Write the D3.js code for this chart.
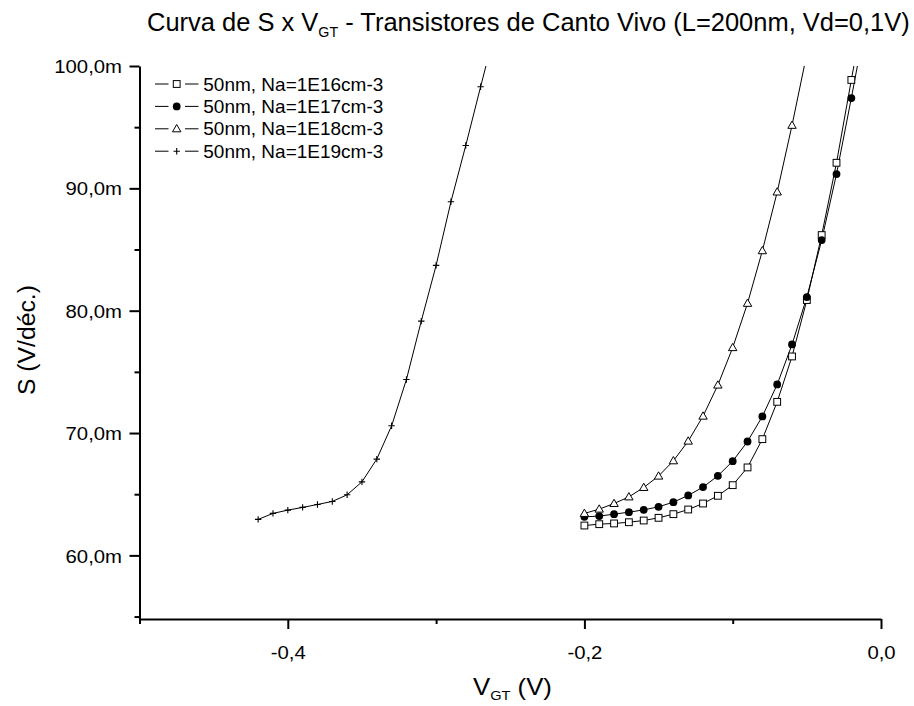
<!DOCTYPE html>
<html><head><meta charset="utf-8">
<script src="https://cdn.jsdelivr.net/npm/d3@7"></script>
<style>
body{margin:0;background:#fff}
svg text{font-family:"Liberation Sans",Arial,sans-serif;fill:#000}
</style>
</head><body>
<svg id="chart" width="914" height="706"></svg>
<script>
// ---------- data ----------
const vgtRight = [-0.20,-0.19,-0.18,-0.17,-0.16,-0.15,-0.14,-0.13,-0.12,-0.11,-0.10,-0.09,-0.08,-0.07,-0.06,-0.05,-0.04,-0.03,-0.02,-0.01];
const s1E16 = [62.44,62.55,62.61,62.71,62.85,63.07,63.37,63.75,64.24,64.87,65.74,67.19,69.50,72.55,76.26,80.87,86.18,92.09,98.86,105.5];
const s1E17 = [63.15,63.21,63.37,63.53,63.72,63.97,64.35,64.90,65.58,66.50,67.70,69.31,71.36,73.97,77.24,81.11,85.77,91.17,97.38,103.8];
const vgt1E18 = [-0.20,-0.19,-0.18,-0.17,-0.16,-0.15,-0.14,-0.13,-0.12,-0.11,-0.10,-0.09,-0.08,-0.07,-0.06,-0.05];
const s1E18 = [63.43,63.78,64.24,64.78,65.55,66.48,67.73,69.34,71.38,73.92,76.98,80.60,84.90,89.70,95.15,101.0];
const vgt1E19 = [-0.42,-0.41,-0.40,-0.39,-0.38,-0.37,-0.36,-0.35,-0.34,-0.33,-0.32,-0.31,-0.30,-0.29,-0.28,-0.27,-0.26];
const s1E19 = [62.94,63.43,63.70,63.92,64.16,64.41,64.95,66.01,67.87,70.59,74.38,79.15,83.7,88.9,93.5,98.3,103.0];

const seriesNames = ["50nm, Na=1E16cm-3","50nm, Na=1E17cm-3","50nm, Na=1E18cm-3","50nm, Na=1E19cm-3"];
const seriesMarkers = ["square","circle","triangle","plus"];

const xDomain = [-0.5, 0.0];
const yDomain = [54.8, 100];
const xMajorTicks = [-0.4,-0.2,0.0];
const xMinorTicks = [-0.5,-0.3,-0.1];
const yMajorTicks = [60,70,80,90,100];
const yMinorTicks = [55,65,75,85,95];

const titleMain = "Curva de S x V";
const titleSub = "GT";
const titleRest = " - Transistores de Canto Vivo (L=200nm, Vd=0,1V)";
const xLabelMain = "V", xLabelSub = "GT", xLabelRest = " (V)";
const yLabel = "S (V/déc.)";

// ---------- build ----------
const series = [
  {x: vgtRight, y: s1E16},
  {x: vgtRight, y: s1E17},
  {x: vgt1E18, y: s1E18},
  {x: vgt1E19, y: s1E19}
].map((d,i)=>({name: seriesNames[i], marker: seriesMarkers[i], pts: d.x.map((v,j)=>[v,d.y[j]])}));

const svg = d3.select("#chart");
const L = 139.5, R = 881, T = 66, B = 619;
const x = d3.scaleLinear().domain(xDomain).range([L, R]);
const y = d3.scaleLinear().domain(yDomain).range([B, T]);
const TS = 1.07;

svg.append("defs").append("clipPath").attr("id","plotclip")
  .append("rect").attr("x",L).attr("y",T).attr("width",R-L+2).attr("height",B-T);

function drawMarker(g, type, cx, cy){
  if(type==="square"){
    g.append("rect").attr("x",cx-3.4).attr("y",cy-3.4).attr("width",6.8).attr("height",6.8)
      .attr("fill","#fff").attr("stroke","#000").attr("stroke-width",1);
  } else if(type==="circle"){
    g.append("circle").attr("cx",cx).attr("cy",cy).attr("r",3.9).attr("fill","#000");
  } else if(type==="triangle"){
    g.append("path").attr("d",`M${cx},${cy-4.3}L${cx+4.2},${cy+3}L${cx-4.2},${cy+3}Z`)
      .attr("fill","#fff").attr("stroke","#000").attr("stroke-width",1);
  } else {
    g.append("path").attr("d",`M${cx-3.2},${cy}H${cx+3.2}M${cx},${cy-3.2}V${cy+3.2}`)
      .attr("stroke","#000").attr("stroke-width",1.1).attr("fill","none");
  }
}

const plot = svg.append("g").attr("clip-path","url(#plotclip)");
const line = d3.line().x(d=>x(d[0])).y(d=>y(d[1]));
series.forEach(s=>{
  plot.append("path").attr("d",line(s.pts)).attr("fill","none").attr("stroke","#000").attr("stroke-width",1);
});
series.forEach(s=>{
  const g = plot.append("g");
  s.pts.forEach(p=>drawMarker(g, s.marker, x(p[0]), y(p[1])));
});

const fmt = v => v.toFixed(1).replace(".",",");
const gx = svg.append("g").attr("transform",`translate(0,${B})`)
  .call(d3.axisBottom(x).tickValues(xMajorTicks).tickSize(10).tickSizeOuter(0).tickFormat(fmt));
const gxm = svg.append("g").attr("transform",`translate(0,${B})`)
  .call(d3.axisBottom(x).tickValues(xMinorTicks).tickSize(5).tickSizeOuter(0).tickFormat(""));
gxm.select(".domain").remove();
const gy = svg.append("g").attr("transform",`translate(${L},0)`)
  .call(d3.axisLeft(y).tickValues(yMajorTicks).tickSize(10).tickSizeOuter(0).tickFormat(v=>fmt(v)+"m"));
const gym = svg.append("g").attr("transform",`translate(${L},0)`)
  .call(d3.axisLeft(y).tickValues(yMinorTicks).tickSize(5).tickSizeOuter(0).tickFormat(""));
gym.select(".domain").remove();
[gx,gxm,gy,gym].forEach(g=>{
  g.attr("font-family",null).attr("font-size",null);
  g.selectAll(".domain").attr("stroke","#000").attr("stroke-width",2);
  g.selectAll(".tick line").attr("stroke","#000").attr("stroke-width",2);
});
gx.selectAll(".tick text").attr("y",40).attr("dy",null).style("font-size","19px")
  .attr("transform",`scale(${TS},1)`);
gy.selectAll(".tick text").attr("x",-17.5/TS).attr("dy","0.35em").style("font-size","19px")
  .attr("transform",`scale(${TS},1)`);

function fit(sel, tx, ty, target, rot){
  const w = sel.node().getBBox().width;
  const s = target / w;
  sel.attr("transform",`translate(${tx},${ty})${rot?` rotate(${rot})`:""} scale(${s},1)`);
}

const title = svg.append("text").attr("x",0).attr("y",0).style("font-size","25px");
title.append("tspan").text(titleMain);
title.append("tspan").text(titleSub).style("font-size","14px").attr("dy",6);
title.append("tspan").text(titleRest).attr("dy",-6);
fit(title, 147, 31, 763);

const xl = svg.append("text").attr("x",0).attr("y",0).style("font-size","23px");
xl.append("tspan").text(xLabelMain);
xl.append("tspan").text(xLabelSub).style("font-size","13px").attr("dy",5);
xl.append("tspan").text(xLabelRest).attr("dy",-5);
fit(xl, 473, 695, 79);

const yl = svg.append("text").attr("x",0).attr("y",0).style("font-size","24px").text(yLabel);
fit(yl, 35, 395, 110, -90);

const leg = svg.append("g");
let legScale = null;
series.forEach((s,i)=>{
  const cy = 84 + i*22.4;
  leg.append("line").attr("x1",155).attr("x2",168.5).attr("y1",cy).attr("y2",cy).attr("stroke","#000").attr("stroke-width",1);
  leg.append("line").attr("x1",185).attr("x2",198.5).attr("y1",cy).attr("y2",cy).attr("stroke","#000").attr("stroke-width",1);
  drawMarker(leg, s.marker, 176.7, cy);
  const t = leg.append("text").attr("x",0).attr("y",0).style("font-size","18px").text(s.name);
  if(legScale===null) legScale = 180 / t.node().getBBox().width;
  t.attr("transform",`translate(203.3,${cy+6.5}) scale(${legScale},1)`);
});
</script>
</body></html>
